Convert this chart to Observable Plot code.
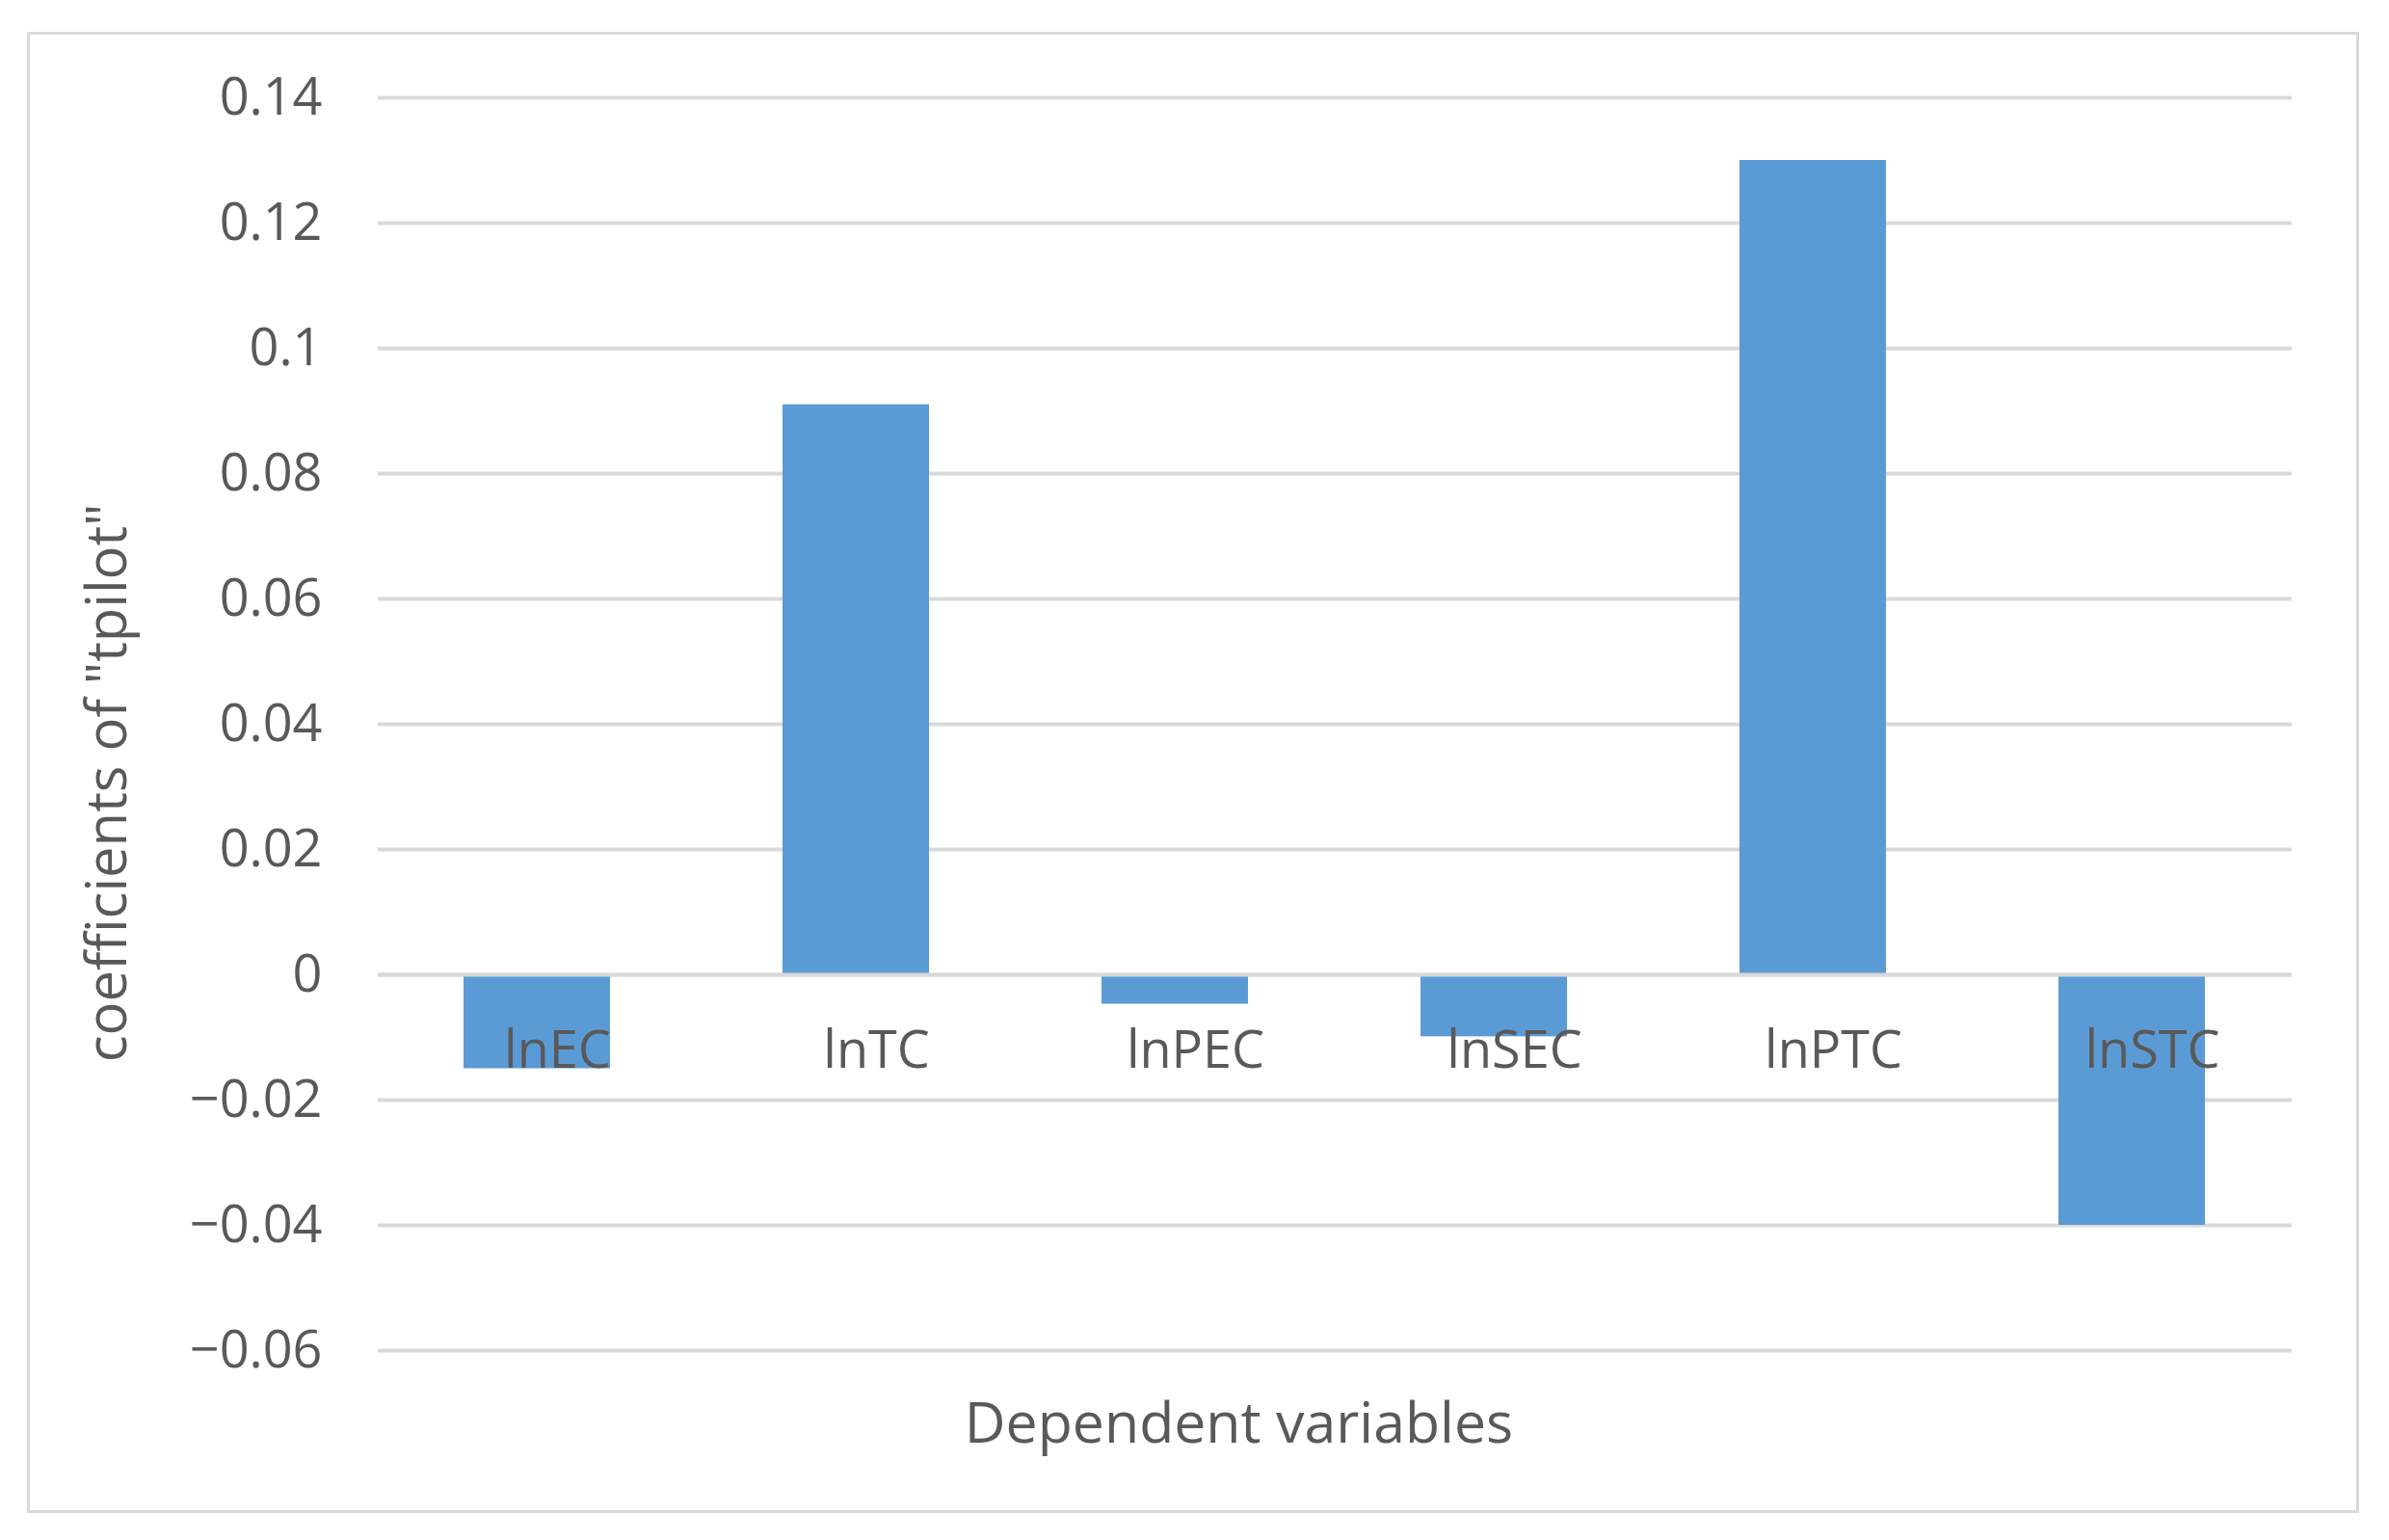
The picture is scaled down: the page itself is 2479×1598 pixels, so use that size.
<!DOCTYPE html>
<html><head><meta charset="utf-8">
<script src="https://cdn.jsdelivr.net/npm/d3@7"></script>
<script src="https://cdn.jsdelivr.net/npm/@observablehq/plot@0.6"></script>
<style>
body{margin:0;background:#fff;}
#wrap{position:relative;width:2479px;height:1598px;}
#wrap svg{position:absolute;left:0;top:0;}
#frame{position:absolute;left:28px;top:33px;width:2414px;height:1531px;border:3px solid #d9d9d9;z-index:2;pointer-events:none;}
</style></head><body><div id="wrap"><div id="frame"></div></div>
<script>
const categories = ["lnEC", "lnTC", "lnPEC", "lnSEC", "lnPTC", "lnSTC"];
const coefficients = [-0.015, 0.091, -0.0047, -0.0099, 0.130, -0.040];
const yTicks = [-0.06, -0.04, -0.02, 0, 0.02, 0.04, 0.06, 0.08, 0.1, 0.12, 0.14];
const xTitle = "Dependent variables";
const yTitle = 'coefficients of "tpilot"';

const data = categories.map((c, i) => ({category: c, value: coefficients[i]}));
const fmt = d => (Math.round(d * 100) / 100).toString().replace("-", "\u2212");
const textColor = "#595959";

const chart = Plot.plot({
  width: 2479,
  height: 1598,
  marginLeft: 392,
  marginRight: 101,
  marginTop: 101,
  marginBottom: 197,
  style: {fontFamily: "'Open Sans', sans-serif", fontSize: "54px", color: textColor, background: "transparent"},
  x: {domain: categories, paddingInner: 0.54, paddingOuter: 0.27, axis: null},
  y: {domain: [-0.06, 0.14], axis: null},
  marks: [
    Plot.ruleY(yTicks, {stroke: "#d9d9d9", strokeWidth: 4}),
    Plot.barY(data, {x: "category", y: "value", fill: "#5B9BD5"}),
    Plot.ruleY([0], {stroke: "#d9d9d9", strokeWidth: 4}),
    Plot.axisY({ticks: yTicks, tickFormat: fmt, tickSize: 0, tickPadding: 58, label: null, fontSize: 54, fill: textColor}),
    Plot.text(data, {x: "category", y: d => 0, text: "category", dx: 21, dy: 79, fontSize: 54, fill: textColor}),
    Plot.text([xTitle], {text: d => d, frameAnchor: "bottom", textAnchor: "middle", lineAnchor: "middle", dx: -100, dy: 77, fontSize: 59, fill: textColor}),
    Plot.text([yTitle], {text: d => d, frameAnchor: "left", textAnchor: "middle", lineAnchor: "middle", rotate: -90, dx: -280, dy: 61, fontSize: 58, fill: textColor})
  ]
});
document.getElementById("wrap").appendChild(chart);
</script>
</body></html>
